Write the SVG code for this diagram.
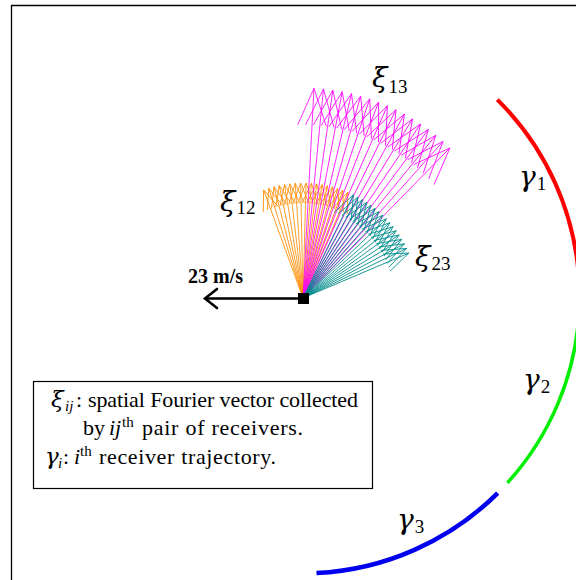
<svg xmlns="http://www.w3.org/2000/svg" xmlns:xlink="http://www.w3.org/1999/xlink" width="576" height="580" viewBox="0 0 576 580">
<style>
.t{font-family:"Liberation Serif","Times New Roman",serif;fill:#000}
.g{font-family:"DejaVu Serif","Liberation Serif",serif;font-style:italic}
.it{font-style:italic}
.fo{stroke:#FF8C00;stroke-width:0.8;fill:none}
.fm{stroke:#FF00FF;stroke-width:0.8;fill:none}
.ft{stroke:#008B8B;stroke-width:0.8;fill:none}
.arc{fill:none;stroke-linecap:butt}
</style>
<defs>
<path id="aO" d="M0,0H115M94.5,-7.9L115,0L94.5,7.9"/>
<path id="aM" d="M0,0H210M172.7,-14.3L210,0L172.7,14.3"/>
<path id="aT" d="M0,0H115M90.7,-9.3L115,0L90.7,9.3"/>
</defs>
<rect width="576" height="580" fill="#fff"/>
<g id="frame" stroke="#000" stroke-width="1.3" fill="none">
<path d="M11.5,580V5.5H576"/>
</g>
<g id="trajectories">
<path id="gamma1-arc" class="arc" stroke="#FF0000" stroke-width="4" d="M497.3,99.6A277,277 0 0 1 579.1,282"/>
<path id="gamma2-arc" class="arc" stroke="#00EE00" stroke-width="3.5" d="M579.1,311A277,277 0 0 1 507.4,482.9"/>
<path id="gamma3-arc" class="arc" stroke="#0000EE" stroke-width="4.5" d="M497.7,493.1A277,277 0 0 1 316.5,573.1"/>
</g>
<g id="connectors">
<g id="fan-xi12" class="fo" transform="translate(303,298)">
<use href="#aO" transform="rotate(-110)"/><use href="#aO" transform="rotate(-107.31)"/><use href="#aO" transform="rotate(-104.63)"/><use href="#aO" transform="rotate(-101.94)"/><use href="#aO" transform="rotate(-99.25)"/><use href="#aO" transform="rotate(-96.56)"/><use href="#aO" transform="rotate(-93.88)"/><use href="#aO" transform="rotate(-91.19)"/><use href="#aO" transform="rotate(-88.5)"/><use href="#aO" transform="rotate(-85.81)"/><use href="#aO" transform="rotate(-83.13)"/><use href="#aO" transform="rotate(-80.44)"/><use href="#aO" transform="rotate(-77.75)"/><use href="#aO" transform="rotate(-75.06)"/><use href="#aO" transform="rotate(-72.38)"/><use href="#aO" transform="rotate(-69.69)"/><use href="#aO" transform="rotate(-67)"/>
</g>
<g id="fan-xi13" class="fm" transform="translate(303,298)">
<use href="#aM" transform="rotate(-87)"/><use href="#aM" transform="rotate(-84.41)"/><use href="#aM" transform="rotate(-81.83)"/><use href="#aM" transform="rotate(-79.24)"/><use href="#aM" transform="rotate(-76.65)"/><use href="#aM" transform="rotate(-74.06)"/><use href="#aM" transform="rotate(-71.48)"/><use href="#aM" transform="rotate(-68.89)"/><use href="#aM" transform="rotate(-66.3)"/><use href="#aM" transform="rotate(-63.71)"/><use href="#aM" transform="rotate(-61.13)"/><use href="#aM" transform="rotate(-58.54)"/><use href="#aM" transform="rotate(-55.95)"/><use href="#aM" transform="rotate(-53.36)"/><use href="#aM" transform="rotate(-50.78)"/><use href="#aM" transform="rotate(-48.19)"/><use href="#aM" transform="rotate(-45.6)"/>
</g>
<g id="fan-xi23" class="ft" transform="translate(303,298)">
<use href="#aT" transform="rotate(-64)"/><use href="#aT" transform="rotate(-61.44)"/><use href="#aT" transform="rotate(-58.88)"/><use href="#aT" transform="rotate(-56.31)"/><use href="#aT" transform="rotate(-53.75)"/><use href="#aT" transform="rotate(-51.19)"/><use href="#aT" transform="rotate(-48.63)"/><use href="#aT" transform="rotate(-46.06)"/><use href="#aT" transform="rotate(-43.5)"/><use href="#aT" transform="rotate(-40.94)"/><use href="#aT" transform="rotate(-38.38)"/><use href="#aT" transform="rotate(-35.81)"/><use href="#aT" transform="rotate(-33.25)"/><use href="#aT" transform="rotate(-30.69)"/><use href="#aT" transform="rotate(-28.13)"/><use href="#aT" transform="rotate(-25.56)"/><use href="#aT" transform="rotate(-23)"/>
</g>
<g id="velocity" stroke="#000" stroke-width="2.6" fill="none" stroke-linecap="round" stroke-linejoin="miter">
<path d="M303,298.5H206"/>
<path d="M217,289L205,298.5L217,308"/>
</g>
</g>
<g id="receiver">
<rect x="298" y="293" width="11" height="11" fill="#000"/>
</g>
<g id="labels" class="t">
<text id="speed" x="188" y="283" font-size="20" font-weight="bold">23 m/s</text>
<text id="xi13" x="372" y="87"><tspan class="g" font-size="28">ξ</tspan><tspan dx="1" dy="6" font-size="19">13</tspan></text>
<text id="xi12" x="220" y="211"><tspan class="g" font-size="28">ξ</tspan><tspan dx="1" dy="3" font-size="19">12</tspan></text>
<text id="xi23" x="415" y="266"><tspan class="g" font-size="28">ξ</tspan><tspan dx="1" dy="4" font-size="19">23</tspan></text>
<text id="gamma1" x="519" y="186"><tspan class="g" font-size="28">γ</tspan><tspan dx="1" dy="4" font-size="19">1</tspan></text>
<text id="gamma2" x="523" y="389"><tspan class="g" font-size="28">γ</tspan><tspan dx="1" dy="4" font-size="19">2</tspan></text>
<text id="gamma3" x="397" y="529"><tspan class="g" font-size="28">γ</tspan><tspan dx="1" dy="4" font-size="19">3</tspan></text>
</g>
<g id="legend" class="t">
<rect x="33.5" y="381.5" width="339" height="107" fill="#fff" stroke="#000" stroke-width="1.2"/>
<text y="407" font-size="22"><tspan x="51" class="g" font-size="23">ξ</tspan><tspan x="65" y="411" class="it" font-size="15">ij</tspan><tspan x="76" y="407">:</tspan><tspan x="88" textLength="270" lengthAdjust="spacing">spatial Fourier vector collected</tspan></text>
<text y="435" font-size="22"><tspan x="83">by</tspan><tspan x="109" class="it">ij</tspan><tspan x="122" y="427" font-size="15">th</tspan><tspan x="142" y="435" textLength="161" lengthAdjust="spacing">pair of receivers.</tspan></text>
<text y="464" font-size="22"><tspan x="45" class="g" font-size="23">γ</tspan><tspan x="58" y="468" class="it" font-size="15">i</tspan><tspan x="63" y="464">:</tspan><tspan x="74" class="it">i</tspan><tspan x="80" y="456" font-size="15">th</tspan><tspan x="99" y="464" textLength="177" lengthAdjust="spacing">receiver trajectory.</tspan></text>
</g>
</svg>
